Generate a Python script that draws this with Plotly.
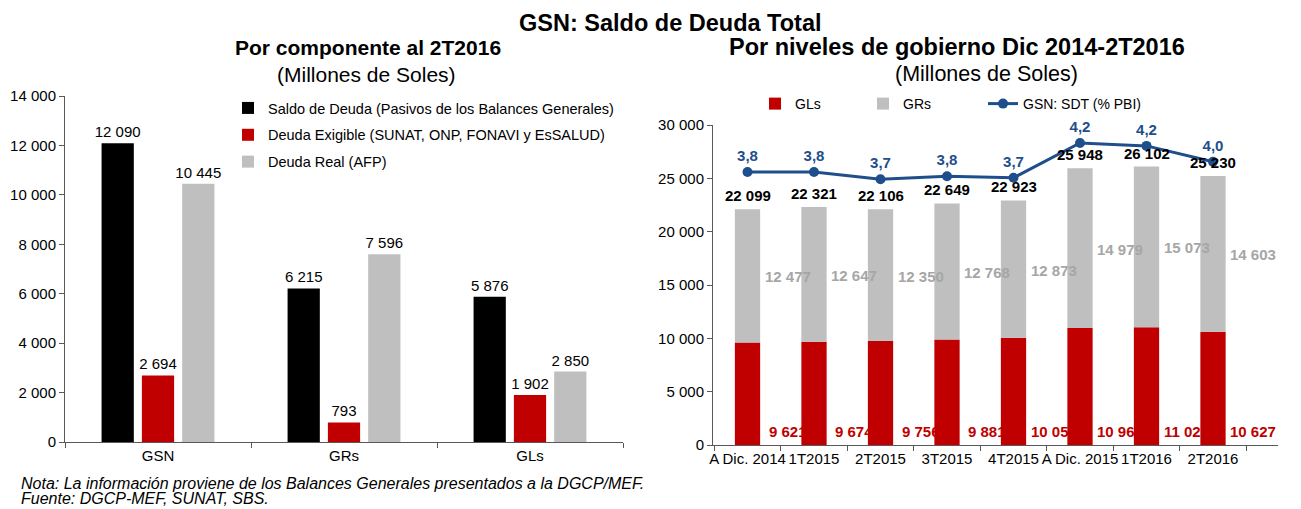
import plotly.graph_objects as go

# ---------------- Data ----------------
left_categories = ["GSN", "GRs", "GLs"]
saldo_deuda = [12090, 6215, 5876]
deuda_exigible = [2694, 793, 1902]
deuda_real = [10445, 7596, 2850]
left_names = ["Saldo de Deuda (Pasivos de los Balances Generales)",
              "Deuda Exigible (SUNAT, ONP, FONAVI y EsSALUD)",
              "Deuda Real (AFP)"]

right_categories = ["A Dic. 2014", "1T2015", "2T2015", "3T2015", "4T2015",
                    "A Dic. 2015", "1T2016", "2T2016"]
gls = [9621, 9674, 9756, 9881, 10051, 10969, 11029, 10627]
grs = [12477, 12647, 12350, 12768, 12873, 14979, 15073, 14603]
totals = [22099, 22321, 22106, 22649, 22923, 25948, 26102, 25230]
sdt_pbi = [3.82, 3.82, 3.72, 3.76, 3.74, 4.22, 4.18, 3.96]

left_yticks = [0, 2000, 4000, 6000, 8000, 10000, 12000, 14000]
right_yticks = [0, 5000, 10000, 15000, 20000, 25000, 30000]

BLACK = "#000000"
RED = "#C00000"
GRAY = "#BFBFBF"
BLUE = "#1F4E8C"
FONT = "Arial, Liberation Sans, sans-serif"

# page body has an 8px margin: figure starts at (8, 8) and runs to the window edge
OFF = 8
FW, FH = 1301 - OFF, 509 - OFF


def fx(x):
    return (x - OFF) / FW


def fy(y):
    return 1 - (y - OFF) / FH


fig = go.Figure()

# ---------------- Left chart ----------------
for name, vals, col in zip(left_names, [saldo_deuda, deuda_exigible, deuda_real], [BLACK, RED, GRAY]):
    fig.add_trace(go.Bar(
        x=left_categories, y=vals, name=name, marker_color=col, marker_line_width=0,
        texttemplate="%{y:,d}", textposition="outside", constraintext="none",
        textfont=dict(size=15, color="#000000", family=FONT),
        cliponaxis=False, xaxis="x", yaxis="y", legend="legend",
        legendgroup=name, offsetgroup=name,
    ))

# ---------------- Right chart ----------------
fig.add_trace(go.Bar(x=right_categories, y=gls, name="GLs", marker_color=RED, marker_line_width=0,
                     xaxis="x2", yaxis="y2", legend="legend2", offsetgroup="stack", width=0.38))
fig.add_trace(go.Bar(x=right_categories, y=grs, base=gls, name="GRs", marker_color=GRAY,
                     marker_line_width=0,
                     xaxis="x2", yaxis="y2", legend="legend3", offsetgroup="stack", width=0.38))
fig.add_trace(go.Scatter(
    x=right_categories, y=sdt_pbi, name="GSN: SDT (% PBI)", mode="lines+markers+text",
    line=dict(color=BLUE, width=3), marker=dict(color=BLUE, size=10),
    texttemplate="%{y:.1f}", textposition="top center",
    textfont=dict(size=15, color=BLUE, family=FONT, weight="bold"),
    xaxis="x2", yaxis="y3", legend="legend4", cliponaxis=False,
))

annotations = []
for cat, g, r, t in zip(right_categories, gls, grs, totals):
    annotations.append(dict(xref="x2", yref="y2", x=cat, y=g + r, text=f"{t:,d}".replace(",", " "),
                            showarrow=False, yanchor="bottom", yshift=3,
                            font=dict(size=15, color="#000000", family=FONT, weight="bold")))
    annotations.append(dict(xref="x2", yref="y2", x=cat, y=g + r / 2, text=f"{r:,d}".replace(",", " "),
                            showarrow=False, xshift=40, yshift=-1,
                            font=dict(size=15, color="#A6A6A6", family=FONT, weight="bold")))
    annotations.append(dict(xref="x2", yref="y2", x=cat, y=0, text=f"{g:,d}".replace(",", " "),
                            showarrow=False, xshift=40, yanchor="bottom", yshift=3,
                            font=dict(size=15, color=RED, family=FONT, weight="bold")))


def txt(x, y, s, size, bold=False, italic=False, xanchor="center", yanchor="middle"):
    annotations.append(dict(xref="paper", yref="paper", x=fx(x), y=fy(y), text=s, showarrow=False,
                            xanchor=xanchor, yanchor=yanchor,
                            font=dict(size=size, color="#000000", family=FONT,
                                      weight="bold" if bold else "normal",
                                      style="italic" if italic else "normal")))


txt(670, 8, "GSN: Saldo de Deuda Total", 23.5, bold=True, yanchor="top")
txt(368, 47, "Por componente al 2T2016", 21, bold=True)
txt(366, 74, "(Millones de Soles)", 21)
txt(957, 47, "Por niveles de gobierno Dic 2014-2T2016", 23.5, bold=True)
txt(986, 74, "(Millones de Soles)", 21.5)
txt(19, 483, "Nota: La información proviene de los Balances Generales presentados a la DGCP/MEF.", 16,
    italic=True, xanchor="left")
txt(19, 509, "Fuente: DGCP-MEF, SUNAT, SBS.", 16, italic=True, xanchor="left", yanchor="bottom")

axis_common = dict(showgrid=False, zeroline=False, showline=True, linecolor="#595959", linewidth=1,
                   tickfont=dict(size=15, color="#000000", family=FONT), ticks="outside",
                   tickcolor="#595959", ticklen=5, automargin=False)

leg_common = dict(xanchor="left", yanchor="top", bgcolor="rgba(0,0,0,0)",
                  font=dict(size=14, family=FONT, color="#000000"))

fig.update_layout(
    template="none",
    width=FW, height=FH,
    margin=dict(l=0, r=0, t=0, b=0, autoexpand=False),
    paper_bgcolor="white", plot_bgcolor="white",
    font=dict(family=FONT, size=14, color="#000000"),
    separators=", ",
    barmode="group",
    bargap=0.35, bargroupgap=0.2,
    xaxis=dict(domain=[fx(65), fx(623)], anchor="y", tickson="boundaries", **axis_common),
    yaxis=dict(domain=[fy(442), fy(96)], anchor="x", range=[0, 14000],
               tickvals=left_yticks, tickformat=",d", **axis_common),
    xaxis2=dict(domain=[fx(713), fx(1278)], anchor="y2", tickson="boundaries", tickangle=0,
                **axis_common),
    yaxis2=dict(domain=[fy(445), fy(125)], anchor="x2", range=[0, 30000],
                tickvals=right_yticks, tickformat=",d", **axis_common),
    yaxis3=dict(overlaying="y2", anchor="x2", range=[0.054, 4.468], visible=False),
    legend=dict(x=fx(228), y=fy(92), traceorder="grouped", tracegroupgap=5,
                **{**leg_common, "font": dict(size=14.5, family=FONT, color="#000000")}),
    legend2=dict(x=fx(755), y=fy(88), **leg_common),
    legend3=dict(x=fx(863), y=fy(88), **leg_common),
    legend4=dict(x=fx(983), y=fy(88), **leg_common),
    annotations=annotations,
    showlegend=True,
)

fig.write_html("out.html")
